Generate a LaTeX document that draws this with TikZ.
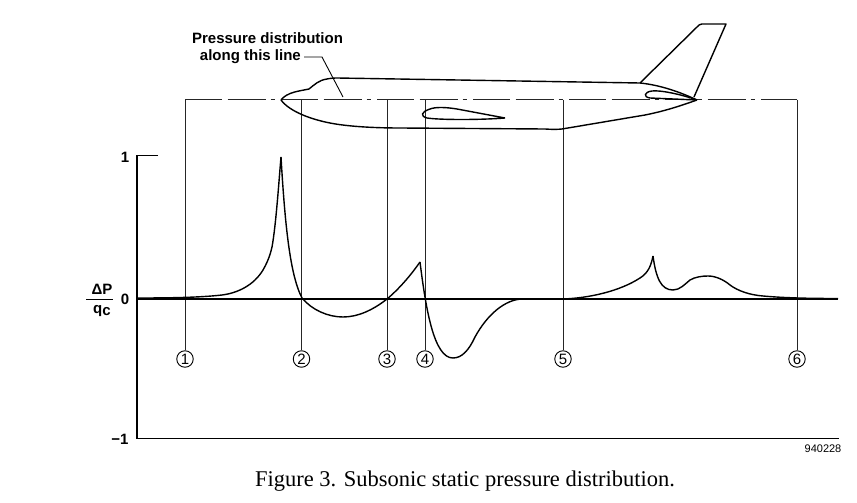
\documentclass[tikz,border=0pt]{standalone}
\usepackage{fontspec}
\setmainfont{Liberation Serif}
\newfontfamily\sansfont{Liberation Sans}
\usetikzlibrary{positioning}

\tikzset{
    outline/.style = {line width = 1.4pt, line join = round},
    guide/.style = {line width = 0.9pt, black!85},
    station/.style = {draw, circle, fill = white, line width = 0.9pt, inner sep = 0pt,
        minimum size = 16.5pt, font = \sansfont\fontsize{15}{15}\selectfont},
    axislabel/.style = {font = \sansfont\bfseries\fontsize{15}{15}\selectfont, inner sep = 0pt},
    linelabel/.style = {font = \sansfont\bfseries\fontsize{15}{15}\selectfont, inner sep = 0pt}
}

\begin{document}
\begin{tikzpicture}[x = 1pt, y = -1pt]
    \useasboundingbox [fill = white] (0, 0) rectangle (857, 503);

% The stations sit along the dash-dot line.
    \foreach \name/\xpos/\num in {a/185/1, b/301.5/2, c/387/3, d/425/4, e/563/5, f/797/6} {
        \coordinate (top\name) at (\xpos, 99.5);
        \node [station] (st\name) at (\xpos, 359) {\num};
        \draw [guide] (top\name) -- (st\name);
    }
    \draw [guide, dash pattern = on 37pt off 5.5pt on 38pt off 5pt on 4pt off 6.5pt] (topa) -- (topf);

% Axes of the graph.
    \coordinate (orig) at (137, 299);
    \coordinate (axistop) at (137, 155.5);
    \coordinate (ticktop) at (158, 155.5);
    \coordinate (axisbot) at (137, 438.5);
    \coordinate (axisend) at (839, 438.5);
    \coordinate (zeroend) at (838, 299);
    \draw [line width = 1.4pt] (ticktop) -- (axistop) -- (axisbot) -- (axisend);
    \draw [line width = 1.1pt] (orig) -- (zeroend);

    \node [axislabel] (one) at (125, 157) {1};
    \node [axislabel] (zero) at (125, 299) {0};
    \node [axislabel] (minus) at (120, 439.5) {\textminus 1};
    \node [axislabel] (dp) at (102, 289) {ΔP};
    \node [axislabel] (qc) at (102, 311) {q\raisebox{-2.5pt}{c}};
    \coordinate (barl) at (86, 299.5);
    \coordinate (barr) at (113, 299.5);
    \draw [line width = 1pt] (barl) -- (barr);

% Pressure curve, with a new Bezier piece after each cusp.
    \draw [outline] (137, 298) .. controls (170, 298) and (200, 297.5) .. (222, 295)
        .. controls (238, 293) and (254, 285) .. (263, 270)
        .. controls (267, 263) and (270, 256) .. (272, 247)
        .. controls (276, 225) and (279, 180) .. (281, 157);
    \draw [outline] (281, 157) .. controls (285, 225) and (290, 275) .. (302, 298)
        .. controls (312, 310) and (328, 317) .. (343, 317)
        .. controls (358, 317) and (373, 310) .. (387, 299)
        .. controls (399, 289) and (411, 275) .. (420, 262);
    \draw [outline] (420, 262) .. controls (426, 310) and (434, 358) .. (453, 358)
        .. controls (462, 358) and (469, 350) .. (475, 337)
        .. controls (487, 315) and (505, 299) .. (523, 299)
        -- (563, 299)
        .. controls (590, 298) and (620, 291) .. (640, 278)
        .. controls (648, 273) and (651, 266) .. (653, 256);
    \draw [outline] (653, 256) .. controls (656, 278) and (661, 290) .. (673, 290)
        .. controls (680, 290) and (685, 284) .. (690, 280)
        .. controls (695, 277) and (702, 276) .. (708, 276)
        .. controls (716, 276) and (724, 280) .. (730, 285)
        .. controls (738, 291) and (750, 295) .. (763, 296)
        .. controls (785, 298) and (810, 298.5) .. (838, 298.5);

% Airplane: fuselage, fin, tailplane and wing.
    \draw [outline] (281, 100) .. controls (287, 92) and (300, 91) .. (309, 89)
        .. controls (314, 85) and (319, 80) .. (327, 79)
        .. controls (330, 78.3) and (334, 78) .. (337, 78)
        -- (640, 83) .. controls (660, 85) and (680, 92) .. (697, 100);
    \draw [outline] (281, 100) .. controls (290, 112) and (312, 119.5) .. (330, 123)
        .. controls (345, 126) and (370, 128) .. (400, 128)
        -- (545, 129) .. controls (552, 129.5) and (557, 129.5) .. (562, 129)
        -- (645, 115) .. controls (665, 111) and (680, 106) .. (697, 100);
    \draw [outline] (640, 83) -- (697, 27) .. controls (699, 25) and (700, 24) .. (702, 24)
        -- (726, 24) -- (694, 97);
    \draw [outline] (697, 100) .. controls (680, 94) and (660, 90) .. (652, 91)
        .. controls (644, 92) and (643, 97) .. (650, 98) -- (697, 100);
    \draw [outline] (505, 118) -- (457, 109) .. controls (445, 107) and (435, 107) .. (430, 109)
        .. controls (421, 112) and (420, 116) .. (427, 118) .. controls (440, 120) and (480, 120) .. (505, 118);

% Label of the dash-dot line.
    \node [linelabel] (linetop) at (267.5, 38) {Pressure distribution};
    \node [linelabel, anchor = east] (linebot) at (301, 57) {along this line};
    \coordinate (bend) at (322, 57);
    \coordinate (linehit) at (343, 97);
    \draw [line width = 0.9pt] (linebot.east) ++ (3, 0) -- (bend) -- (linehit);

    \node [font = \sansfont\fontsize{11}{11}\selectfont, inner sep = 0pt] (fignum) at (823, 448.5) {940228};
    \node [font = \fontsize{22.5}{23}\selectfont, inner sep = 0pt] (caption) at (465, 481)
        {Figure 3. Subsonic static pressure distribution.};
\end{tikzpicture}
\end{document}
